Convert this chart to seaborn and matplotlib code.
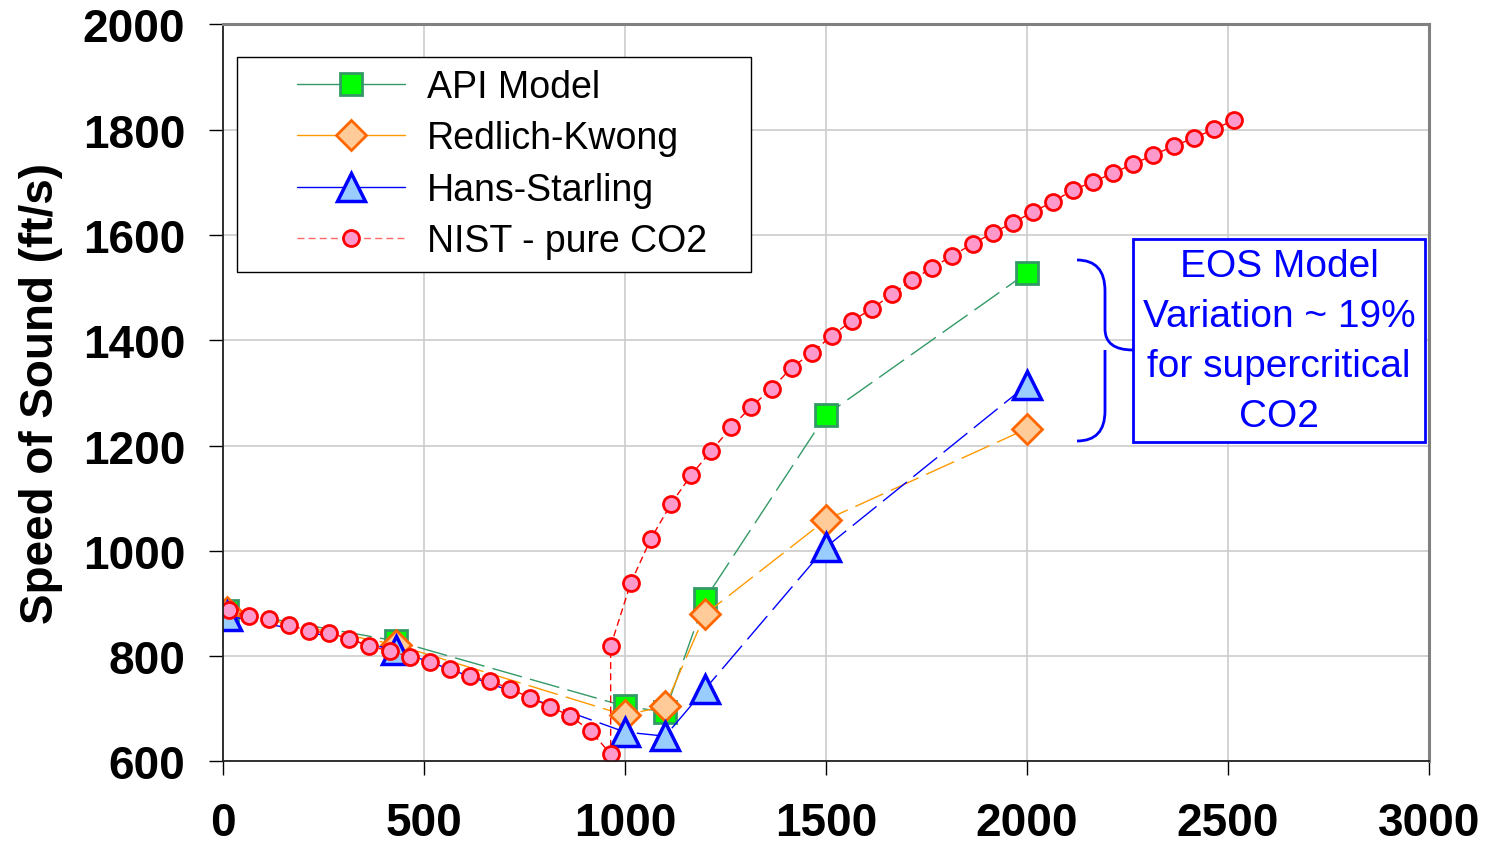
import numpy as np
import pandas as pd
import seaborn as sns
import matplotlib
matplotlib.use('Agg')
import matplotlib.pyplot as plt
from matplotlib.lines import Line2D
from matplotlib.patches import Rectangle, PathPatch
from matplotlib.path import Path

# data
model_pressure = [10, 430, 1000, 1100, 1200, 1500, 2000]
api_model = [886, 829, 705, 694, 909, 1258, 1528]
redlich_kwong = [884, 822, 688, 705, 880, 1059, 1232]
hans_starling = [877, 812, 656, 648, 738, 1007, 1315]

nist_pressure = [14.7, 64.7, 114.7, 164.7, 214.7, 264.7, 314.7, 364.7, 414.7, 464.7,
                 514.7, 564.7, 614.7, 664.7, 714.7, 764.7, 814.7, 864.7, 914.7, 964.7,
                 964.7, 1014.7, 1064.7, 1114.7, 1164.7, 1214.7, 1264.7, 1314.7, 1364.7,
                 1414.7, 1464.7, 1514.7, 1564.7, 1614.7, 1664.7, 1714.7, 1764.7, 1814.7,
                 1864.7, 1914.7, 1964.7, 2014.7, 2064.7, 2114.7, 2164.7, 2214.7, 2264.7,
                 2314.7, 2364.7, 2414.7, 2464.7, 2514.7]
nist_co2 = [888, 876, 871, 859, 848, 844, 833, 819, 810, 799,
            789, 776, 762, 753, 738, 721, 704, 686, 658, 614,
            819, 939, 1023, 1089, 1144, 1190, 1235, 1274, 1308,
            1348, 1376, 1409, 1437, 1460, 1488, 1515, 1538, 1561, 1583,
            1604, 1623, 1644, 1663, 1686, 1701, 1718, 1735, 1752, 1769,
            1784, 1801, 1818]

x_ticks = [0, 500, 1000, 1500, 2000, 2500, 3000]
y_ticks = [600, 800, 1000, 1200, 1400, 1600, 1800, 2000]

series_names = ['API Model', 'Redlich-Kwong', 'Hans-Starling', 'NIST - pure CO2']
note_text = 'EOS Model\nVariation ~ 19%\nfor supercritical\nCO2'

sns.set_style('whitegrid')
plt.rcParams['font.family'] = ['Liberation Sans', 'DejaVu Sans']
plt.rcParams['text.color'] = 'black'
plt.rcParams['axes.labelcolor'] = 'black'
plt.rcParams['xtick.color'] = 'black'
plt.rcParams['ytick.color'] = 'black'

fig = plt.figure(figsize=(14.9, 8.54), dpi=100)
ax = fig.add_axes([0.1495, 0.1072, 0.8096, 0.8630])

long_dash = (0, (22, 6))
styles = [
    dict(color='#339966', marker='s', markersize=16, markerfacecolor='#00ff00',
         markeredgecolor='#339966', markeredgewidth=2, linestyle=long_dash),
    dict(color='#ff9900', marker='D', markersize=15, markerfacecolor='#ffcc99',
         markeredgecolor='#ff6600', markeredgewidth=2, linestyle=long_dash),
    dict(color='#0000ff', marker='^', markersize=19.5, markerfacecolor='#99ccff',
         markeredgecolor='#0000ff', markeredgewidth=2.5, linestyle=long_dash),
    dict(color='#ff0000', marker='o', markersize=11.5, markerfacecolor='#ff99cc',
         markeredgecolor='#ff0000', markeredgewidth=2, linestyle=(0, (5, 3))),
]

for vals, st in zip([api_model, redlich_kwong, hans_starling], styles[:3]):
    sns.lineplot(x=model_pressure, y=vals, ax=ax, linewidth=1, sort=False,
                 estimator=None, **st)
sns.lineplot(x=nist_pressure, y=nist_co2, ax=ax, linewidth=1, sort=False,
             estimator=None, **styles[3])

ax.set_xlim(0, 3000)
ax.set_ylim(600, 2000)
ax.set_xticks(x_ticks)
ax.set_yticks(y_ticks)
ax.set_xlabel('')
ax.set_ylabel('Speed of Sound (ft/s)', fontsize=33, fontweight='bold', labelpad=14)
ax.tick_params(axis='both', labelsize=33, direction='out', length=10, width=1,
               color='black', labelcolor='black', left=True, bottom=True)
ax.tick_params(axis='y', pad=17)
ax.tick_params(axis='x', pad=18.5)
for lab in ax.get_xticklabels() + ax.get_yticklabels():
    lab.set_fontweight('bold')
ax.grid(True, color='#cccccc', linewidth=1.2)
ax.set_facecolor('white')
for side in ['left', 'bottom']:
    ax.spines[side].set_color('#222222')
    ax.spines[side].set_linewidth(1.3)
for side in ['top', 'right']:
    ax.spines[side].set_color('#808080')
    ax.spines[side].set_linewidth(2.2)

# legend frame drawn by hand so it has the reference's roomy box
ax.add_patch(Rectangle((0.01185, 0.6642), 0.4261, 0.2917, transform=ax.transAxes,
                       facecolor='white', edgecolor='black', linewidth=1, zorder=8))
handles = []
for name, st in zip(series_names, styles):
    s = dict(st)
    if name != 'NIST - pure CO2':
        s['linestyle'] = '-'
    else:
        s['color'] = '#ff6666'
    handles.append(Line2D([], [], linewidth=1, label=name, **s))
leg = ax.legend(handles=handles, loc='upper left', bbox_to_anchor=(0.0616, 0.9396),
                borderaxespad=0, borderpad=0, fontsize=27, frameon=False,
                handlelength=2.88, handletextpad=0.59, labelspacing=0.41)
leg.set_zorder(9)
for t in leg.get_texts():
    t.set_color('black')

# annotation box and brace
ax.add_patch(Rectangle((0.7546, 0.4335), 0.2421, 0.2755, transform=ax.transAxes,
                       facecolor='white', edgecolor='#0000ff', linewidth=2, zorder=5))
ax.text(0.8757, 0.571, note_text, transform=ax.transAxes, ha='center', va='center',
        fontsize=28, color='#0000ff', linespacing=1.5, zorder=6)


def fig_xy(px, py):
    return (px / 1490.0, 1 - py / 854.0)


brace_px = [(1077, 261), (1105, 261), (1105, 292), (1105, 330), (1105, 351), (1133, 351),
            (1105, 351), (1105, 372), (1105, 412), (1105, 442), (1077, 442)]
codes = [Path.MOVETO, Path.CURVE3, Path.CURVE3, Path.LINETO, Path.CURVE3, Path.CURVE3,
         Path.MOVETO, Path.CURVE3, Path.LINETO, Path.CURVE3, Path.CURVE3]
brace = Path([fig_xy(*p) for p in brace_px], codes)
fig.patches.append(PathPatch(brace, transform=fig.transFigure, facecolor='none',
                             edgecolor='#0000ff', linewidth=2))

fig.savefig('out.png', dpi=100, facecolor='white')
